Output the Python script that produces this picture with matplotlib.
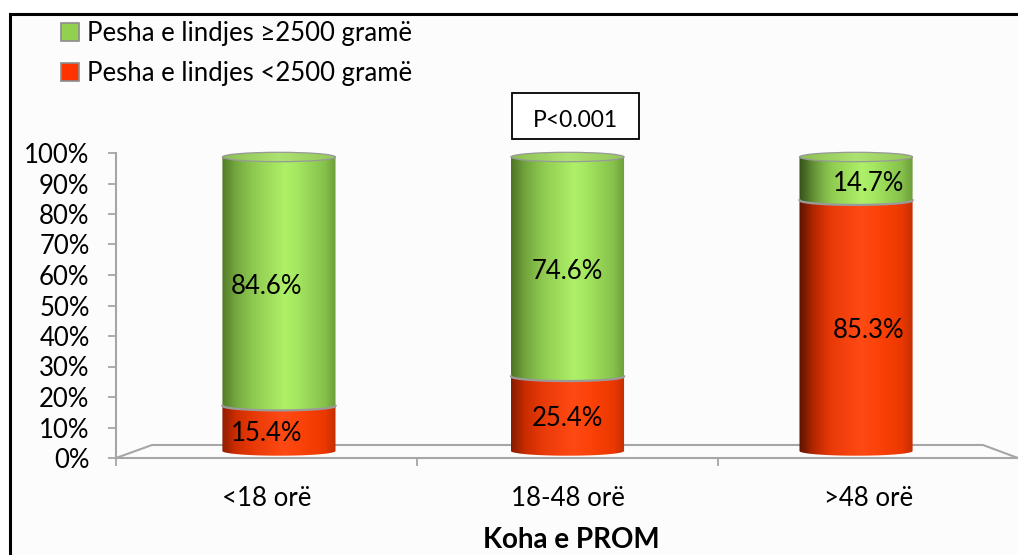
import numpy as np
import matplotlib
matplotlib.use('Agg')
import matplotlib.pyplot as plt
from matplotlib.patches import Patch, PathPatch, Rectangle, Ellipse
from matplotlib.path import Path
from matplotlib.colors import to_rgb
import matplotlib.transforms as mtrans

# ---------------- data ----------------
categories = ['<18 orë', '18-48 orë', '>48 orë']
low_weight = [15.4, 25.4, 85.3]       # Pesha e lindjes <2500 gramë (red)
normal_weight = [84.6, 74.6, 14.7]    # Pesha e lindjes ≥2500 gramë (green)
y_ticks = [0, 10, 20, 30, 40, 50, 60, 70, 80, 90, 100]
y_tick_labels = ['0%', '10%', '20%', '30%', '40%', '50%', '60%', '70%', '80%', '90%', '100%']
series_labels = ['Pesha e lindjes ≥2500 gramë', 'Pesha e lindjes <2500 gramë']
p_text = 'P<0.001'
x_title = 'Koha e PROM'

# ---------------- style ----------------
plt.rcParams['font.family'] = ['Lato', 'DejaVu Sans']
W, H = 1018, 555
fig = plt.figure(figsize=(W / 100, H / 100), dpi=100)
fig.patch.set_facecolor('white')
FS = 18.5
GREY = '#a6a6a6'


def fpos(x0, ytop, x1, ybot):
    return [x0 / W, 1 - ybot / H, (x1 - x0) / W, (ybot - ytop) / H]


def fx(x):
    return x / W


def fy(y):
    return 1 - y / H


# outer frame
fig.patches.append(Rectangle((fx(9.5), -0.2), 1.5, fy(13.5) + 0.2, transform=fig.transFigure,
                             facecolor='#fcfcfc', edgecolor='black', lw=2.2, zorder=-10))

# ---------------- front axes (ticks / spines) ----------------
ax = fig.add_axes(fpos(116, 153, 1019, 458))
ax.set_xlim(-0.5, 2.5)
ax.set_ylim(0, 100)
ax.patch.set_visible(False)
for s in ['top', 'right']:
    ax.spines[s].set_visible(False)
for s in ['left', 'bottom']:
    ax.spines[s].set_color(GREY)
    ax.spines[s].set_linewidth(1.5)
ax.set_yticks(y_ticks)
ax.set_yticklabels(y_tick_labels, fontsize=FS)
ax.tick_params(axis='y', length=6, color=GREY, width=1.3, pad=13)
xs = np.arange(len(categories))
ax.set_xticks(xs)
ax.set_xticklabels(categories, fontsize=FS)
ax.set_xticks(np.arange(len(categories) + 1) - 0.5, minor=True)
ax.tick_params(axis='x', which='major', length=0, pad=20)
ax.tick_params(axis='x', which='minor', length=6, color=GREY, width=1.3)

# ---------------- bar axes (3D mid-plane) ----------------
ax_b = fig.add_axes(fpos(152, 150, 983, 458))
ax_b.set_axis_off()
XL = (-0.44, 2.44)
YL = (-2.381, 102.38)

# floor
px_per_x = 831 / (XL[1] - XL[0])
lf = XL[0] - 36 / px_per_x
rf = XL[1] + 35 / px_per_x
floor_y = 2.04
ax_b.plot([lf, XL[0], XL[1], rf], [YL[0], floor_y, floor_y, YL[0]], color=GREY, lw=1.5,
          clip_on=False, zorder=1, solid_joinstyle='miter')

bw = 0.392
e = 1.6

green_stops = [(0.0, '#62922f'), (0.12, '#7cb443'), (0.55, '#aef068'), (0.65, '#a6e862'),
               (0.9, '#86c24c'), (1.0, '#6e9e3a')]
red_stops = [(0.0, '#a82200'), (0.12, '#dc3000'), (0.55, '#ff4a14'), (0.7, '#fb4208'),
             (0.9, '#ec3800'), (1.0, '#c43000')]
cap_stops = [(0.0, '#8cbf52'), (0.5, '#ace272'), (1.0, '#94c85a')]
left_dark = [0.85, 0.8, 0.55]


def grad_img(stops, dark):
    n = 200
    t = np.linspace(0, 1, n)
    pos = [s[0] for s in stops]
    cols = np.array([to_rgb(s[1]) for s in stops])
    img = np.stack([np.interp(t, pos, cols[:, k]) for k in range(3)], axis=-1)
    shade = 1 - (1 - dark) * np.clip(1 - t / 0.3, 0, 1) ** 1.5
    img = img * shade[:, None]
    return img[None, :, :]


def seg_path(xc, b, t):
    th1 = np.linspace(0, np.pi, 60)
    th2 = np.linspace(np.pi, 2 * np.pi, 60)
    top = np.column_stack([xc + bw / 2 * np.cos(th1), t + e * np.sin(th1)])
    bot = np.column_stack([xc + bw / 2 * np.cos(th2), b + e * np.sin(th2)])
    verts = np.vstack([top, bot, top[:1]])
    codes = [Path.MOVETO] + [Path.LINETO] * (len(verts) - 2) + [Path.CLOSEPOLY]
    return Path(verts, codes)


for i, xc in enumerate(xs):
    segs = [(0, low_weight[i], red_stops), (low_weight[i], low_weight[i] + normal_weight[i], green_stops)]
    for j, (b, t, stops) in enumerate(segs):
        patch = PathPatch(seg_path(xc, b, t), facecolor='none', edgecolor='none', zorder=2 + j)
        ax_b.add_patch(patch)
        im = ax_b.imshow(grad_img(stops, left_dark[i]), extent=[xc - bw / 2, xc + bw / 2, b - e, t + e],
                         aspect='auto', zorder=2 + j, interpolation='bilinear')
        im.set_clip_path(patch)
        if j == 1:
            th = np.linspace(np.pi, 2 * np.pi, 60)
            ax_b.plot(xc + bw / 2 * np.cos(th), b + e * np.sin(th), color='#9a9a9a', lw=1.6, zorder=5)
    top = low_weight[i] + normal_weight[i]
    cap = Ellipse((xc, top), bw, 2 * e, facecolor='none', edgecolor='none', zorder=6)
    ax_b.add_patch(cap)
    imc = ax_b.imshow(grad_img(cap_stops, 1.0), extent=[xc - bw / 2, xc + bw / 2, top - e, top + e],
                      aspect='auto', zorder=6, interpolation='bilinear')
    imc.set_clip_path(cap)
    ax_b.add_patch(Ellipse((xc, top), bw, 2 * e, facecolor='none', edgecolor='#999999', lw=0.9, zorder=7))

ax_b.set_xlim(*XL)
ax_b.set_ylim(*YL)

# data labels
blend = mtrans.blended_transform_factory(ax.transData, ax_b.transData)
for i, xc in enumerate(xs):
    lw_mid = low_weight[i] / 2
    nw_mid = low_weight[i] + normal_weight[i] / 2
    ax_b.text(xc, lw_mid - 1.7, f'{low_weight[i]:.1f}%', transform=blend, ha='center', va='center',
              fontsize=FS, zorder=10)
    ax_b.text(xc, nw_mid - 1.7, f'{normal_weight[i]:.1f}%', transform=blend, ha='center', va='center',
              fontsize=FS, zorder=10)

# legend
handles = [Patch(facecolor='#92d050', edgecolor='#8c8c8c', lw=1.2),
           Patch(facecolor='#ff3300', edgecolor='#8c8c8c', lw=1.2)]
fig.legend(handles, series_labels, loc='upper left', bbox_to_anchor=(fx(61), fy(21)),
           frameon=False, fontsize=FS, handlelength=0.7, handleheight=0.7, handletextpad=0.3,
           labelspacing=0.6, borderpad=0, borderaxespad=0)

# P value box
fig.patches.append(Rectangle((fx(512), fy(139)), (639 - 512) / W, (139 - 93) / H,
                             transform=fig.transFigure, facecolor='white', edgecolor='black', lw=1.3))
fig.text(fx(575.5), fy(120.5), p_text, ha='center', va='center', fontsize=16.5)

# x title
fig.text(fx(571), fy(540), x_title, ha='center', va='center', fontsize=20, fontweight='bold')

fig.savefig('out.png', dpi=100, facecolor='white')
